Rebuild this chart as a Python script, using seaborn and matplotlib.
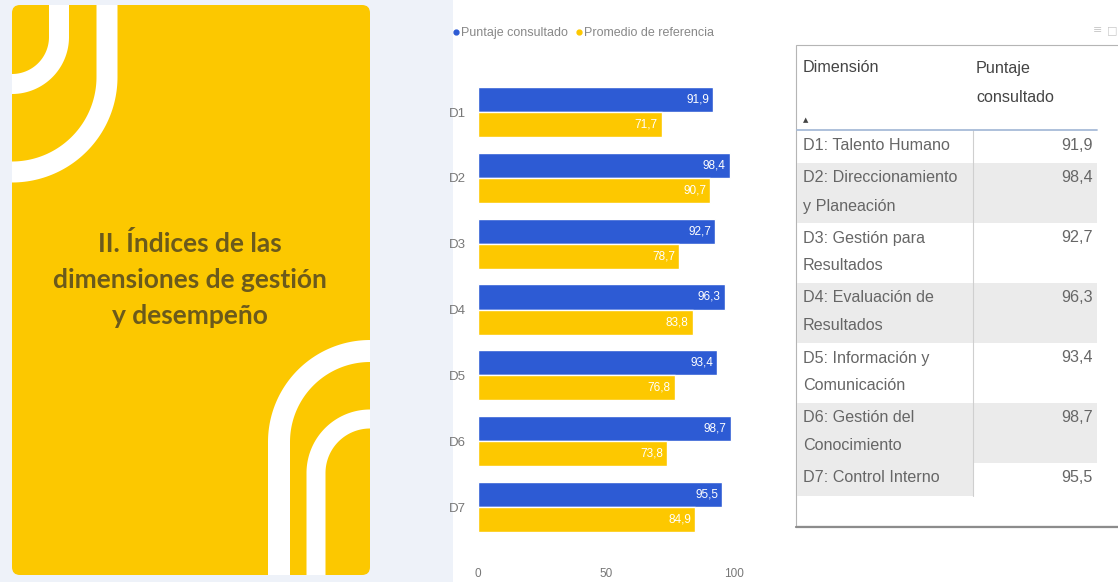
import numpy as np
import pandas as pd
import matplotlib
matplotlib.use("Agg")
import matplotlib.pyplot as plt
import seaborn as sns
from matplotlib.patches import FancyBboxPatch, Rectangle
from matplotlib.lines import Line2D

# ---------------- data ----------------
dimensiones = ["D1", "D2", "D3", "D4", "D5", "D6", "D7"]
puntaje = [91.9, 98.4, 92.7, 96.3, 93.4, 98.7, 95.5]
promedio = [71.7, 90.7, 78.7, 83.8, 76.8, 73.8, 84.9]
series = ["Puntaje consultado", "Promedio de referencia"]
x_ticks = [0, 50, 100]
tabla_nombres = [
    ["D1: Talento Humano"],
    ["D2: Direccionamiento", "y Planeación"],
    ["D3: Gestión para", "Resultados"],
    ["D4: Evaluación de", "Resultados"],
    ["D5: Información y", "Comunicación"],
    ["D6: Gestión del", "Conocimiento"],
    ["D7: Control Interno"],
]
tabla_valores = puntaje
tabla_header = ["Dimensión", "Puntaje", "consultado"]
titulo = ["II. Índices de las", "dimensiones de gestión", "y desempeño"]

BLUE = "#2d5bd4"
YELLOW = "#fdc800"
PANEL = "#fcc800"

sns.set_theme(style="white")
plt.rcParams["font.family"] = ["Liberation Sans Narrow", "Liberation Sans", "DejaVu Sans"]

W, H = 1118, 582
fig = plt.figure(figsize=(W / 100, H / 100), dpi=100, facecolor="white")

# background / decoration axes in pixel coordinates
bg = fig.add_axes([0, 0, 1, 1])
bg.set_xlim(0, W)
bg.set_ylim(H, 0)
bg.axis("off")

bg.add_patch(Rectangle((0, 0), 453, H, color="#eef2f9", lw=0, zorder=0))
panel = FancyBboxPatch((12, 5), 358, 570, boxstyle="round,pad=0,rounding_size=8",
                       fc=PANEL, ec="none", zorder=1)
bg.add_patch(panel)


def arch(cx, cy, r, band, sign, leg_y):
    t = np.linspace(0, np.pi, 120)
    xs = np.concatenate([[cx + r, cx + r], cx + r * np.cos(t), [cx - r, cx - r]])
    ys = np.concatenate([[leg_y, cy], cy + sign * r * np.sin(t), [cy, leg_y]])
    ln, = bg.plot(xs, ys, color="white", lw=band * 0.72, solid_capstyle="butt",
                  solid_joinstyle="round", zorder=2)
    ln.set_clip_path(panel)


arch(12, 77, 95, 21, 1, -20)
arch(12, 37, 47, 20, 1, -20)
arch(370, 442, 91, 22, -1, 620)
arch(370, 473, 54, 19, -1, 620)

for txt, y in zip(titulo, [243, 280, 316]):
    bg.text(190, y, txt, ha="center", va="center", fontsize=19, fontweight="bold",
            color="#6b5a1c", family=["Lato", "DejaVu Sans"], zorder=3)

# ---------------- bar chart ----------------
df = pd.DataFrame({
    "Dimension": dimensiones * 2,
    "Serie": [series[0]] * len(dimensiones) + [series[1]] * len(dimensiones),
    "Valor": puntaje + promedio,
})
ax = fig.add_axes([478 / W, (H - 560) / H, 256 / W, 500 / H])
ax.set_facecolor("none")
sns.barplot(data=df, x="Valor", y="Dimension", hue="Serie", palette=[BLUE, YELLOW],
            orient="h", width=0.76, saturation=1, ax=ax, legend=False)
ax.set_xlim(0, 100)
ax.set_ylim(6.805, -0.79)
for s in ax.spines.values():
    s.set_visible(False)
ax.set_xlabel("")
ax.set_ylabel("")
ax.set_xticks(x_ticks)
ax.tick_params(axis="x", length=0, pad=6, labelsize=8.5, labelcolor="#777777")
ax.tick_params(axis="y", length=0, pad=9, labelsize=9.5, labelcolor="#777777")
ax.grid(False)

for cont, vals in zip(ax.containers, [puntaje, promedio]):
    labs = [f"{v:.1f}".replace(".", ",") for v in vals]
    texts = ax.bar_label(cont, labels=labs, padding=-3, color="white", fontsize=8.5)
    for t in texts:
        t.set_ha("right")

handles = [Line2D([], [], marker="o", ls="", color=BLUE, ms=3.5),
           Line2D([], [], marker="o", ls="", color=YELLOW, ms=3.5)]
fig.legend(handles, series, loc="center left", bbox_to_anchor=(452 / W, 1 - 33 / H),
           ncol=2, frameon=False, fontsize=9, handletextpad=0.05, columnspacing=0.5,
           labelcolor="#888888", borderaxespad=0, borderpad=0, handlelength=0.7)

# ---------------- table ----------------
TFS = 11.6
TX0, TX1, TSEP = 797, 1097, 973
bg.add_patch(Rectangle((796, 45), 340, 481, fc="white", ec="#b5b5b5", lw=0.8, zorder=1))
bg.plot([796, 1118], [527, 527], color="#8c8c8c", lw=1.6, zorder=2)

bg.text(803, 68, tabla_header[0], ha="left", va="center", fontsize=TFS, color="#444444")
bg.text(976, 68, tabla_header[1], ha="left", va="center", fontsize=TFS, color="#444444")
bg.text(976, 97, tabla_header[2], ha="left", va="center", fontsize=TFS, color="#444444")
bg.text(806, 120, "▲", ha="center", va="center", fontsize=5, color="#444444",
        family=["DejaVu Sans"])
bg.plot([TX0, TX1], [129.5, 129.5], color="#a7bbd8", lw=1.3, zorder=3)

top = 130
for i, (lines, val) in enumerate(zip(tabla_nombres, tabla_valores)):
    h = 33 if len(lines) == 1 else 60
    if i % 2 == 1:
        bg.add_patch(Rectangle((TX0, top), TX1 - TX0, h, fc="#ebebeb", ec="none", zorder=1.5))
    if i == len(tabla_nombres) - 1:
        bg.add_patch(Rectangle((TX0, top), TSEP - TX0, h, fc="#ebebeb", ec="none", zorder=1.5))
    for j, ln in enumerate(lines):
        bg.text(803, top + 15 + 28 * j, ln, ha="left", va="center", fontsize=TFS,
                color="#666666", zorder=3)
    bg.text(1093, top + 15, f"{val:.1f}".replace(".", ","), ha="right", va="center",
            fontsize=TFS, color="#666666", zorder=3)
    top += h
bg.plot([TSEP, TSEP], [130, top], color="#cfcfcf", lw=0.8, zorder=2)

bg.text(1098, 30, "≡", ha="center", va="center", fontsize=8, color="#c8c8c8",
        family=["DejaVu Sans"])
bg.text(1112, 30, "□", ha="center", va="center", fontsize=8, color="#c8c8c8",
        family=["DejaVu Sans"])

fig.savefig("out.png", dpi=100, facecolor=fig.get_facecolor())
